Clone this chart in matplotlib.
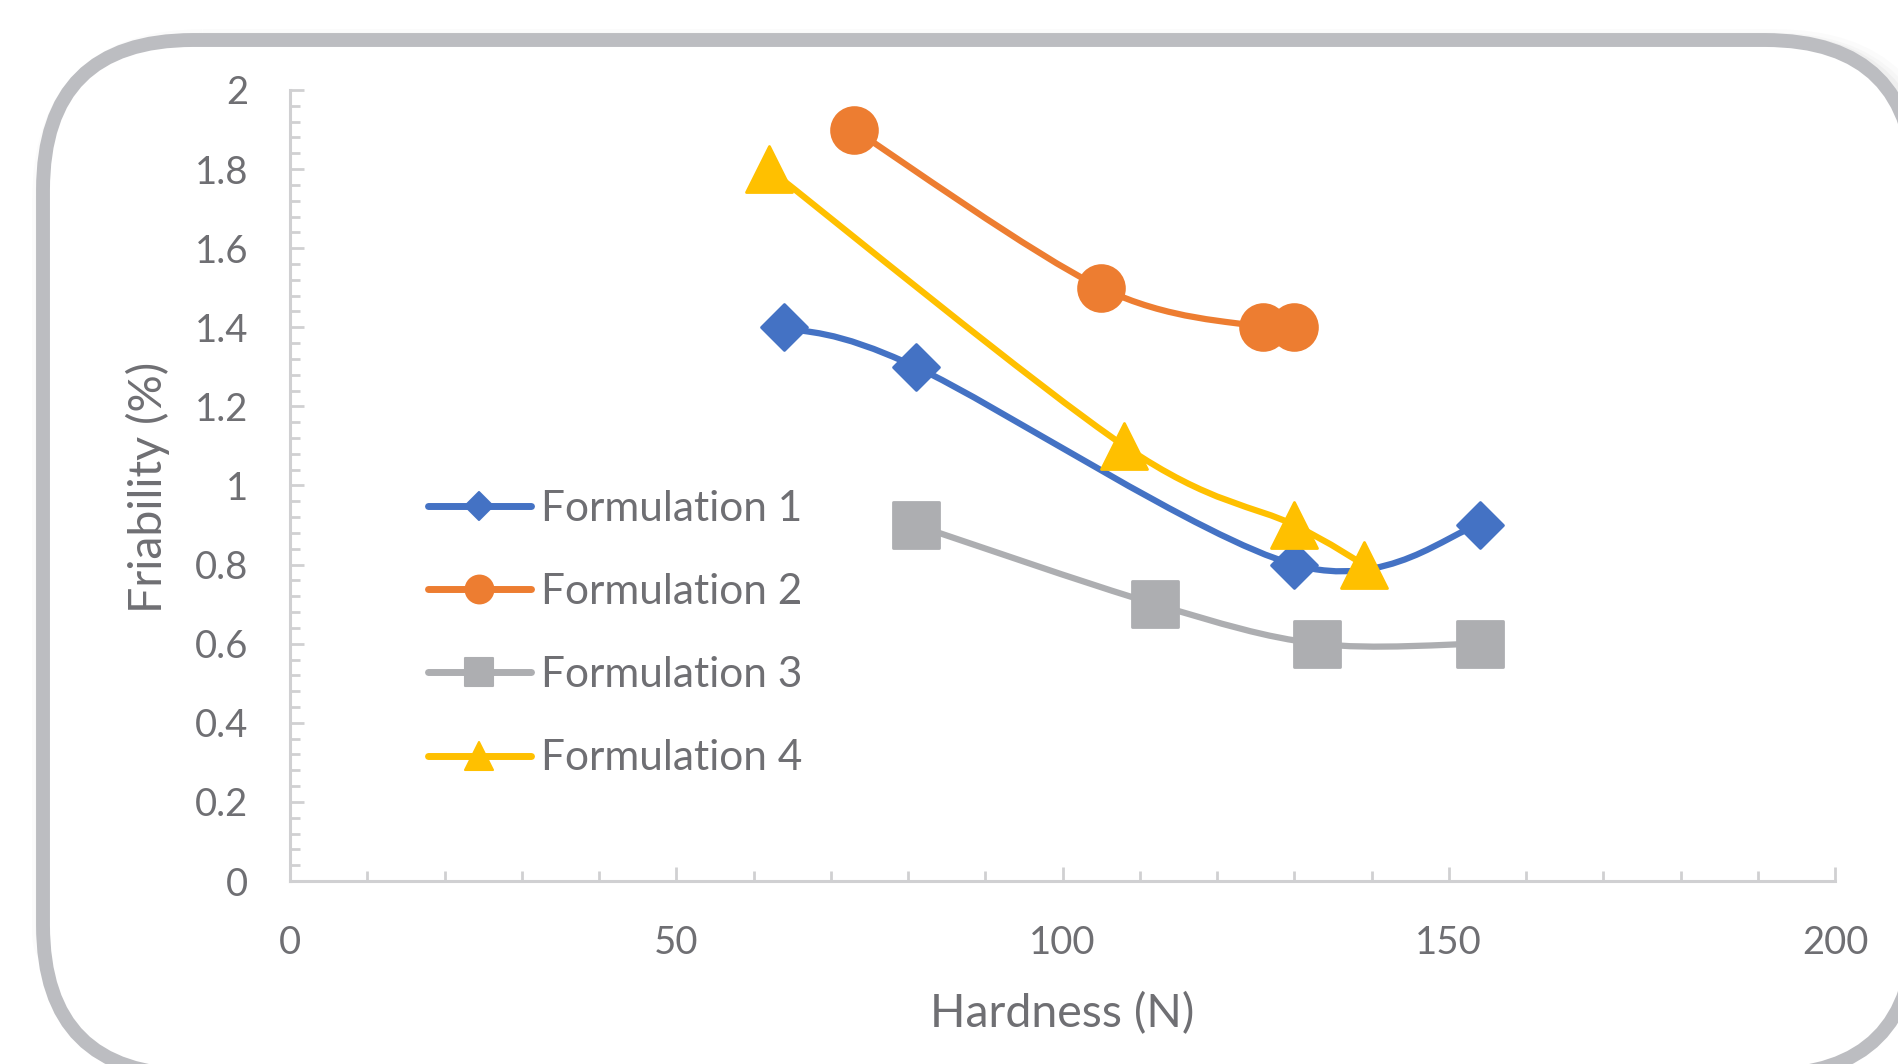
import numpy as np
import matplotlib.pyplot as plt
from matplotlib.path import Path
from matplotlib.patches import PathPatch, FancyBboxPatch
from matplotlib.lines import Line2D
from matplotlib.markers import MarkerStyle
from matplotlib.ticker import MultipleLocator

plt.rcParams['font.family'] = ['Lato', 'DejaVu Sans']

# Hardness (N) vs friability (%) for each formulation
labels = ["Formulation 1", "Formulation 2", "Formulation 3", "Formulation 4"]
hardness = [
    [64, 81, 130, 154],
    [73, 105, 126, 130],
    [81, 112, 133, 154],
    [62, 108, 130, 139],
]
friability = [
    [1.4, 1.3, 0.8, 0.9],
    [1.9, 1.5, 1.4, 1.4],
    [0.9, 0.7, 0.6, 0.6],
    [1.8, 1.1, 0.9, 0.8],
]
colors = ["#4472C4", "#ED7D31", "#ADAEB1", "#FFC000"]
markers = ["D", "o", "s", "^"]
marker_sizes = [23.5, 33, 33, 33]
legend_sizes = [14, 20, 20, 20]

text_color = "#6f6f73"
axis_color = "#d0d0d2"


def smooth_path(xs, ys):
    # cubic Bezier through the points, tangents like a cardinal spline
    p = np.column_stack([xs, ys]).astype(float)
    n = len(p)
    verts = [p[0]]
    codes = [Path.MOVETO]
    for i in range(n - 1):
        p0 = p[i - 1] if i > 0 else p[i]
        p3 = p[i + 2] if i + 2 < n else p[i + 1]
        c1 = p[i] + (p[i + 1] - p0) / 6
        c2 = p[i + 1] - (p3 - p[i]) / 6
        verts += [c1, c2, p[i + 1]]
        codes += [Path.CURVE4] * 3
    return Path(verts, codes)


W, H = 1898, 1064
fig = plt.figure(figsize=(W / 100, H / 100), dpi=100)

# background layer in pixel units for the rounded frame
bg = fig.add_axes([0, 0, 1, 1], zorder=-5)
bg.set_xlim(0, W)
bg.set_ylim(H, 0)
bg.axis("off")
for off, lw, a in [(10, 30, 0.03), (8, 22, 0.04), (5, 16, 0.05)]:
    bg.add_patch(FancyBboxPatch((43 + off, 40 + off), 1872, 1035,
                                boxstyle="round,pad=0,rounding_size=150",
                                fill=False, edgecolor="#808080", lw=lw, alpha=a))
bg.add_patch(FancyBboxPatch((43, 40), 1872, 1035,
                            boxstyle="round,pad=0,rounding_size=150",
                            facecolor="white", edgecolor="#bcbdc1", lw=10))

ax = fig.add_axes([290 / W, 1 - 881 / H, 1545 / W, 791 / H])
ax.set_facecolor("none")

for i in range(len(labels)):
    z = 3 + i
    ax.add_patch(PathPatch(smooth_path(hardness[i], friability[i]), fill=False,
                           edgecolor=colors[i], lw=4.5, capstyle="round",
                           joinstyle="round", zorder=z))
    ax.plot(hardness[i], friability[i], ls="none",
            marker=MarkerStyle(markers[i], joinstyle="round"),
            ms=marker_sizes[i], mew=2, color=colors[i], zorder=z + 0.5)

ax.set_xlim(0, 200)
ax.set_ylim(0, 2)
ax.xaxis.set_major_locator(MultipleLocator(50))
ax.xaxis.set_minor_locator(MultipleLocator(10))
ax.yaxis.set_major_locator(MultipleLocator(0.2))
ax.yaxis.set_minor_locator(MultipleLocator(0.04))
ax.yaxis.set_major_formatter(plt.FuncFormatter(lambda v, p: f"{v:g}"))

for s in ["top", "right"]:
    ax.spines[s].set_visible(False)
for s in ["left", "bottom"]:
    ax.spines[s].set_color(axis_color)
    ax.spines[s].set_linewidth(2.2)

ax.tick_params(which="both", direction="in", color=axis_color, width=2)
ax.tick_params(which="major", length=10)
ax.tick_params(which="minor", length=7)
ax.tick_params(axis="y", which="major", pad=30, labelsize=27.5, labelcolor=text_color)
ax.tick_params(axis="x", which="major", pad=32, labelsize=27.5, labelcolor=text_color)

ax.set_xlabel("Hardness (N)", fontsize=33.5, color=text_color)
ax.xaxis.label.set_va("center")
ax.xaxis.set_label_coords(0.5, -0.168)
ax.set_ylabel("Friability (%)", fontsize=33.5, color=text_color)
ax.yaxis.label.set_va("center")
ax.yaxis.label.set_ha("center")
ax.yaxis.set_label_coords(-0.092, 0.498)

handles = [Line2D([], [], color=colors[i], lw=5, solid_capstyle="round",
                  marker=MarkerStyle(markers[i], joinstyle="round"),
                  ms=legend_sizes[i], mew=1.5)
           for i in range(len(labels))]
leg = ax.legend(handles, labels, loc="upper left", bbox_to_anchor=(428, 490),
                bbox_transform=bg.transData, frameon=False, fontsize=30.5,
                handlelength=2.43, handletextpad=0.23, labelspacing=1.065,
                borderpad=0, borderaxespad=0)
for t in leg.get_texts():
    t.set_color(text_color)

fig.savefig("out.png", dpi=100)
